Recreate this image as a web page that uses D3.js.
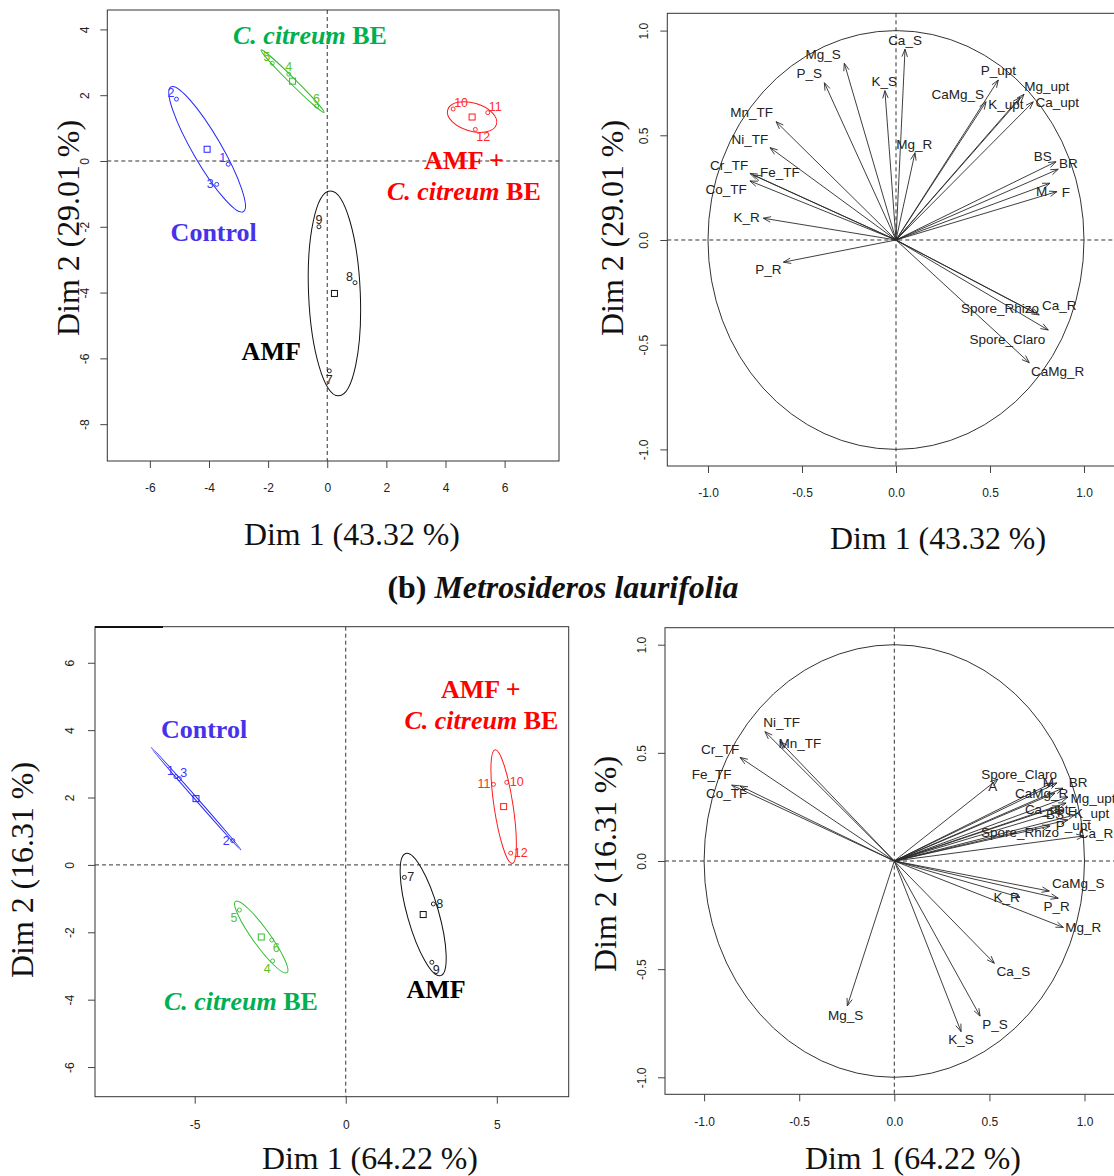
<!DOCTYPE html>
<html><head><meta charset="utf-8">
<script src="https://cdn.jsdelivr.net/npm/d3@7"></script>
<style>body{margin:0;background:#fff}svg{display:block}</style>
</head><body>
<svg id="c" width="1114" height="1176"></svg>
<script>
// ================= DATA =================
const groupNames = ["Control", "C. citreum BE", "AMF", "AMF + C. citreum BE"];

// (top) individuals, Dim 1 (43.32 %) / Dim 2 (29.01 %)
const indTopId    = [1, 2, 3, 4, 5, 6, 7, 8, 9, 10, 11, 12];
const indTopGroup = [0, 0, 0, 1, 1, 1, 2, 2, 2, 3, 3, 3];
const indTopDim1  = [-3.35, -5.10, -3.74, -1.30, -1.86, -0.36, 0.07, 0.94, -0.28, 4.26, 5.43, 5.01];
const indTopDim2  = [-0.10, 1.88, -0.71, 2.64, 2.97, 1.67, -6.38, -3.70, -2.00, 1.58, 1.47, 0.96];
const indTopSide  = ["tl","tl","l","t","tl","t","b","tl","t","tr","tr","br"];

// (bottom) individuals, Dim 1 (64.22 %) / Dim 2 (16.31 %)
const indBotId    = [1, 2, 3, 4, 5, 6, 7, 8, 9, 10, 11, 12];
const indBotGroup = [0, 0, 0, 1, 1, 1, 2, 2, 2, 3, 3, 3];
const indBotDim1  = [-5.62, -3.74, -5.51, -2.42, -3.52, -2.45, 1.94, 2.90, 2.85, 5.33, 4.89, 5.46];
const indBotDim2  = [2.62, 0.72, 2.56, -2.85, -1.34, -2.23, -0.37, -1.16, -2.89, 2.45, 2.39, 0.35];
const indBotSide  = ["tl","l","tr","bl","bl","br","r","r","br","r","l","r"];

// (top) variables factor map
const varTopName = ["Ca_S","Mg_S","P_S","K_S","Mn_TF","Ni_TF","Cr_TF","Fe_TF","Co_TF","K_R","P_R","Mg_R","CaMg_S","P_upt","Mg_upt","K_upt","Ca_upt","BS","BR","M","F","Spore_Rhizo","Ca_R","Spore_Claro","CaMg_R"];
const varTopDim1 = [0.048,-0.275,-0.381,-0.059,-0.638,-0.670,-0.777,-0.759,-0.777,-0.706,-0.599,0.101,0.479,0.544,0.681,0.660,0.730,0.851,0.863,0.819,0.856,0.739,0.762,0.810,0.709];
const varTopDim2 = [0.911,0.844,0.751,0.713,0.565,0.441,0.318,0.310,0.282,0.104,-0.106,0.417,0.660,0.764,0.696,0.681,0.660,0.374,0.338,0.271,0.231,-0.349,-0.358,-0.430,-0.586];
const varTopLabX = [0.048,-0.387,-0.461,-0.062,-0.768,-0.777,-0.888,-0.617,-0.904,-0.794,-0.679,0.097,0.328,0.544,0.802,0.585,0.858,0.780,0.917,0.775,0.904,0.553,0.869,0.592,0.860];
const varTopLabY = [0.955,0.887,0.796,0.759,0.610,0.481,0.358,0.323,0.242,0.106,-0.140,0.457,0.697,0.808,0.735,0.648,0.658,0.401,0.366,0.231,0.228,-0.326,-0.314,-0.473,-0.629];

// (bottom) variables factor map
const varBotName = ["Ni_TF","Mn_TF","Cr_TF","Fe_TF","Co_TF","Mg_S","K_S","P_S","Ca_S","Mg_R","P_R","CaMg_S","K_R","A","Spore_Claro","M","BR","CaMg_R","Mg_upt","Ca_upt","BS","F","K_upt","P_upt","Spore_Rhizo","Ca_R"];
const varBotDim1 = [-0.680,-0.601,-0.811,-0.855,-0.811,-0.247,0.351,0.451,0.526,0.889,0.862,0.815,0.661,0.545,0.829,0.855,0.887,0.845,0.913,0.871,0.892,0.903,0.950,0.913,0.819,0.997];
const varBotDim2 = [0.598,0.552,0.479,0.351,0.347,-0.670,-0.789,-0.717,-0.473,-0.307,-0.172,-0.139,-0.168,0.379,0.361,0.361,0.337,0.314,0.296,0.254,0.236,0.268,0.213,0.190,0.162,0.116];
const varBotLabX = [-0.592,-0.496,-0.916,-0.960,-0.881,-0.256,0.351,0.529,0.626,0.994,0.854,0.967,0.591,0.517,0.656,0.810,0.966,0.775,1.045,0.801,0.845,0.933,1.038,0.941,0.661,1.060];
const varBotLabY = [0.639,0.544,0.516,0.401,0.313,-0.712,-0.824,-0.755,-0.512,-0.307,-0.211,-0.103,-0.168,0.344,0.402,0.362,0.362,0.313,0.290,0.236,0.213,0.228,0.221,0.166,0.131,0.128];

// tick values
const ticksTopIndX = [-6, -4, -2, 0, 2, 4, 6];
const ticksTopIndY = [-8, -6, -4, -2, 0, 2, 4];
const ticksBotIndX = [-5, 0, 5];
const ticksBotIndY = [-6, -4, -2, 0, 2, 4, 6];
const ticksVar     = [-1, -0.5, 0, 0.5, 1];

// texts
const dimTop = ["Dim 1 (43.32 %)", "Dim 2 (29.01 %)"];
const dimBot = ["Dim 1 (64.22 %)", "Dim 2 (16.31 %)"];

// ================= STYLE / LAYOUT =================
const SANS = "'Liberation Sans', Arial, sans-serif";
const SERIF = "'Liberation Serif', 'Times New Roman', serif";
const grpStroke = ["#2323ff", "#2fbf2f", "#111111", "#ff1a1a"];
const grpNum    = ["#3838ff", "#62c11c", "#222222", "#ff2a2a"];
const grpTitle  = ["#4632ea", "#00b050", "#000000", "#ff0000"];
const ELL_K = 1.41;

const svg = d3.select("#c");
const defs = svg.append("defs");

function panel(id, cfg) {
  const x = d3.scaleLinear().domain(cfg.xd).range([cfg.left, cfg.right]);
  const y = d3.scaleLinear().domain(cfg.yd).range([cfg.bottom, cfg.top]);
  defs.append("clipPath").attr("id", id).append("rect")
    .attr("x", cfg.left).attr("y", cfg.top)
    .attr("width", cfg.right - cfg.left).attr("height", cfg.bottom - cfg.top);
  const g = svg.append("g");
  const inner = g.append("g").attr("clip-path", `url(#${id})`);
  inner.append("line").attr("x1", cfg.left).attr("x2", cfg.right).attr("y1", y(0)).attr("y2", y(0))
    .attr("stroke", "#333").attr("stroke-width", 1).attr("stroke-dasharray", "4,3");
  inner.append("line").attr("y1", cfg.top).attr("y2", cfg.bottom).attr("x1", x(0)).attr("x2", x(0))
    .attr("stroke", "#333").attr("stroke-width", 1).attr("stroke-dasharray", "4,3");
  g.append("rect").attr("x", cfg.left).attr("y", cfg.top)
    .attr("width", cfg.right - cfg.left).attr("height", cfg.bottom - cfg.top)
    .attr("fill", "none").attr("stroke", "#333").attr("stroke-width", 1);
  const fmt = cfg.fmt;
  const ax = g.append("g").attr("transform", `translate(0,${cfg.bottom})`)
    .call(d3.axisBottom(x).tickValues(cfg.tx).tickFormat(fmt).tickSize(7).tickSizeOuter(0));
  ax.select(".domain").remove();
  ax.selectAll("line").attr("stroke", "#444");
  ax.selectAll("text").attr("y", cfg.xLabOff).attr("dy", "0.35em")
    .attr("font-family", SANS).attr("font-size", 12).attr("fill", "#222");
  const ay = g.append("g").attr("transform", `translate(${cfg.left},0)`)
    .call(d3.axisLeft(y).tickValues(cfg.ty).tickFormat(fmt).tickSize(7).tickSizeOuter(0));
  ay.select(".domain").remove();
  ay.selectAll("line").attr("stroke", "#444");
  ay.selectAll("text").attr("x", 0).attr("dy", 0).attr("text-anchor", "middle")
    .attr("transform", `translate(${-cfg.yLabOff},0) rotate(-90)`)
    .attr("font-family", SANS).attr("font-size", 12).attr("fill", "#222");
  return {x, y, g, inner};
}

function axisTitles(p, texts, pos) {
  p.g.append("text").attr("x", pos.x1[0]).attr("y", pos.x1[1]).attr("text-anchor", "middle")
    .attr("font-family", SERIF).attr("font-size", 31).attr("fill", "#111")
    .attr("textLength", pos.len).attr("lengthAdjust", "spacingAndGlyphs").text(texts[0]);
  p.g.append("text").attr("transform", `translate(${pos.y1[0]},${pos.y1[1]}) rotate(-90)`)
    .attr("text-anchor", "middle").attr("dominant-baseline", "central")
    .attr("font-family", SERIF).attr("font-size", 31).attr("fill", "#111")
    .attr("textLength", pos.len).attr("lengthAdjust", "spacingAndGlyphs").text(texts[1]);
}

const sideDef = {
  t:  ["middle", 0, -7], b: ["middle", 0, 9], l: ["end", -3, 0], r: ["start", 3, 0],
  tl: ["end", -2, -6], tr: ["start", 1, -6], bl: ["end", -2, 8], br: ["start", 1, 8]
};

function individuals(p, ids, grp, d1, d2, side) {
  const pts = ids.map((id, i) => ({id, g: grp[i], px: p.x(d1[i]), py: p.y(d2[i]), side: side[i]}));
  d3.range(4).forEach(gi => {
    const gp = pts.filter(q => q.g === gi);
    const mx = d3.mean(gp, q => q.px), my = d3.mean(gp, q => q.py);
    let sxx = 0, syy = 0, sxy = 0;
    gp.forEach(q => { const dx = q.px - mx, dy = q.py - my; sxx += dx*dx; syy += dy*dy; sxy += dx*dy; });
    const n1 = gp.length - 1; sxx /= n1; syy /= n1; sxy /= n1;
    const tr = sxx + syy, det = sxx*syy - sxy*sxy;
    const disc = Math.sqrt(Math.max(0, tr*tr/4 - det));
    const l1 = tr/2 + disc, l2 = Math.max(0, tr/2 - disc);
    const ang = Math.atan2(l1 - sxx, sxy) * 180 / Math.PI;
    p.inner.append("ellipse").attr("cx", mx).attr("cy", my)
      .attr("rx", ELL_K*Math.sqrt(l1)).attr("ry", Math.max(1.2, ELL_K*Math.sqrt(l2)))
      .attr("transform", `rotate(${ang},${mx},${my})`)
      .attr("fill", "none").attr("stroke", grpStroke[gi]).attr("stroke-width", 1);
    p.inner.append("rect").attr("x", mx - 3).attr("y", my - 3).attr("width", 6).attr("height", 6)
      .attr("fill", "none").attr("stroke", grpStroke[gi]).attr("stroke-width", 1);
  });
  p.inner.selectAll("circle.pt").data(pts).join("circle").attr("class", "pt")
    .attr("cx", q => q.px).attr("cy", q => q.py).attr("r", 2)
    .attr("fill", "none").attr("stroke", q => grpStroke[q.g]).attr("stroke-width", 0.9);
  p.inner.selectAll("text.num").data(pts).join("text").attr("class", "num")
    .attr("x", q => q.px + sideDef[q.side][1]).attr("y", q => q.py + sideDef[q.side][2])
    .attr("text-anchor", q => sideDef[q.side][0]).attr("dominant-baseline", "central")
    .attr("font-family", SANS).attr("font-size", 12.5).attr("fill", q => grpNum[q.g])
    .text(q => q.id);
}

function groupTitle(p, gi, dx, dy, parts) {
  const t = p.g.append("text").attr("x", p.x(dx)).attr("y", p.y(dy)).attr("text-anchor", "middle")
    .attr("font-family", SERIF).attr("font-size", 26).attr("font-weight", "bold").attr("fill", grpTitle[gi]);
  parts.forEach(pt => t.append("tspan").attr("font-style", pt.i ? "italic" : "normal").text(pt.t));
}

function variables(p, names, d1, d2, lx, ly) {
  const cx = p.x(0), cy = p.y(0);
  p.inner.append("ellipse").attr("cx", cx).attr("cy", cy)
    .attr("rx", p.x(1) - cx).attr("ry", cy - p.y(1))
    .attr("fill", "none").attr("stroke", "#333").attr("stroke-width", 1);
  const ag = p.inner.append("g").attr("stroke", "#2a2a2a").attr("stroke-width", 0.9).attr("fill", "none");
  names.forEach((nm, i) => {
    const tx = p.x(d1[i]), ty = p.y(d2[i]);
    const a = Math.atan2(ty - cy, tx - cx), L = 8, h = 0.35;
    ag.append("path").attr("d",
      `M${cx},${cy}L${tx},${ty}` +
      `M${tx - L*Math.cos(a - h)},${ty - L*Math.sin(a - h)}L${tx},${ty}L${tx - L*Math.cos(a + h)},${ty - L*Math.sin(a + h)}`);
  });
  p.inner.selectAll("text.var").data(names).join("text").attr("class", "var")
    .attr("x", (d, i) => p.x(lx[i])).attr("y", (d, i) => p.y(ly[i]))
    .attr("text-anchor", "middle").attr("dominant-baseline", "central")
    .attr("font-family", SANS).attr("font-size", 13.5).attr("fill", "#222")
    .text(d => d);
}

// ================= PANELS =================
const fInt = d => String(d);
const fDec = d => d.toFixed(1);

const pTL = panel("cTL", {left: 107.3, right: 559, top: 10, bottom: 461, xd: [-7.44, 7.84], yd: [-9.12, 4.59],
  tx: ticksTopIndX, ty: ticksTopIndY, fmt: fInt, xLabOff: 27, yLabOff: 18});
individuals(pTL, indTopId, indTopGroup, indTopDim1, indTopDim2, indTopSide);
groupTitle(pTL, 0, -3.84, -2.42, [{t: "Control"}]);
groupTitle(pTL, 1, -0.585, 3.55, [{t: "C. citreum", i: true}, {t: " BE"}]);
groupTitle(pTL, 2, -1.895, -6.05, [{t: "AMF"}]);
groupTitle(pTL, 3, 4.63, -0.25, [{t: "AMF +"}]);
groupTitle(pTL, 3, 4.62, -1.19, [{t: "C. citreum", i: true}, {t: " BE"}]);
axisTitles(pTL, dimTop, {x1: [352, 545], y1: [68, 228], len: 216});

const pTR = panel("cTR", {left: 667.3, right: 1120, top: 13.3, bottom: 466, xd: [-1.2165, 1.1915], yd: [-1.0793, 1.0826],
  tx: ticksVar, ty: ticksVar, fmt: fDec, xLabOff: 27, yLabOff: 19});
variables(pTR, varTopName, varTopDim1, varTopDim2, varTopLabX, varTopLabY);
axisTitles(pTR, dimTop, {x1: [938, 549], y1: [612, 228], len: 216});

const pBL = panel("cBL", {left: 95, right: 568.7, top: 626.7, bottom: 1096.7, xd: [-8.30, 7.38], yd: [-6.88, 7.07],
  tx: ticksBotIndX, ty: ticksBotIndY, fmt: fInt, xLabOff: 28, yLabOff: 21});
individuals(pBL, indBotId, indBotGroup, indBotDim1, indBotDim2, indBotSide);
groupTitle(pBL, 0, -4.69, 3.76, [{t: "Control"}]);
groupTitle(pBL, 3, 4.47, 4.95, [{t: "AMF +"}]);
groupTitle(pBL, 3, 4.49, 4.03, [{t: "C. citreum", i: true}, {t: " BE"}]);
groupTitle(pBL, 1, -3.47, -4.30, [{t: "C. citreum", i: true}, {t: " BE"}]);
groupTitle(pBL, 2, 2.99, -3.94, [{t: "AMF"}]);
axisTitles(pBL, dimBot, {x1: [370, 1169], y1: [22, 870], len: 216});
pBL.g.append("line").attr("x1", 95).attr("x2", 163).attr("y1", 627).attr("y2", 627)
  .attr("stroke", "#111").attr("stroke-width", 2.2);

const pBR = panel("cBR", {left: 665, right: 1120, top: 627.7, bottom: 1094.3, xd: [-1.2056, 1.1866], yd: [-1.0786, 1.0786],
  tx: ticksVar, ty: ticksVar, fmt: fDec, xLabOff: 28, yLabOff: 19});
variables(pBR, varBotName, varBotDim1, varBotDim2, varBotLabX, varBotLabY);
axisTitles(pBR, dimBot, {x1: [913, 1169], y1: [605, 864], len: 216});

const st = svg.append("text").attr("x", 563).attr("y", 598).attr("text-anchor", "middle")
  .attr("font-family", SERIF).attr("font-size", 31).attr("font-weight", "bold").attr("fill", "#111")
  .attr("textLength", 351).attr("lengthAdjust", "spacingAndGlyphs");
st.append("tspan").text("(b) ");
st.append("tspan").attr("font-style", "italic").text("Metrosideros laurifolia");
</script>
</body></html>
